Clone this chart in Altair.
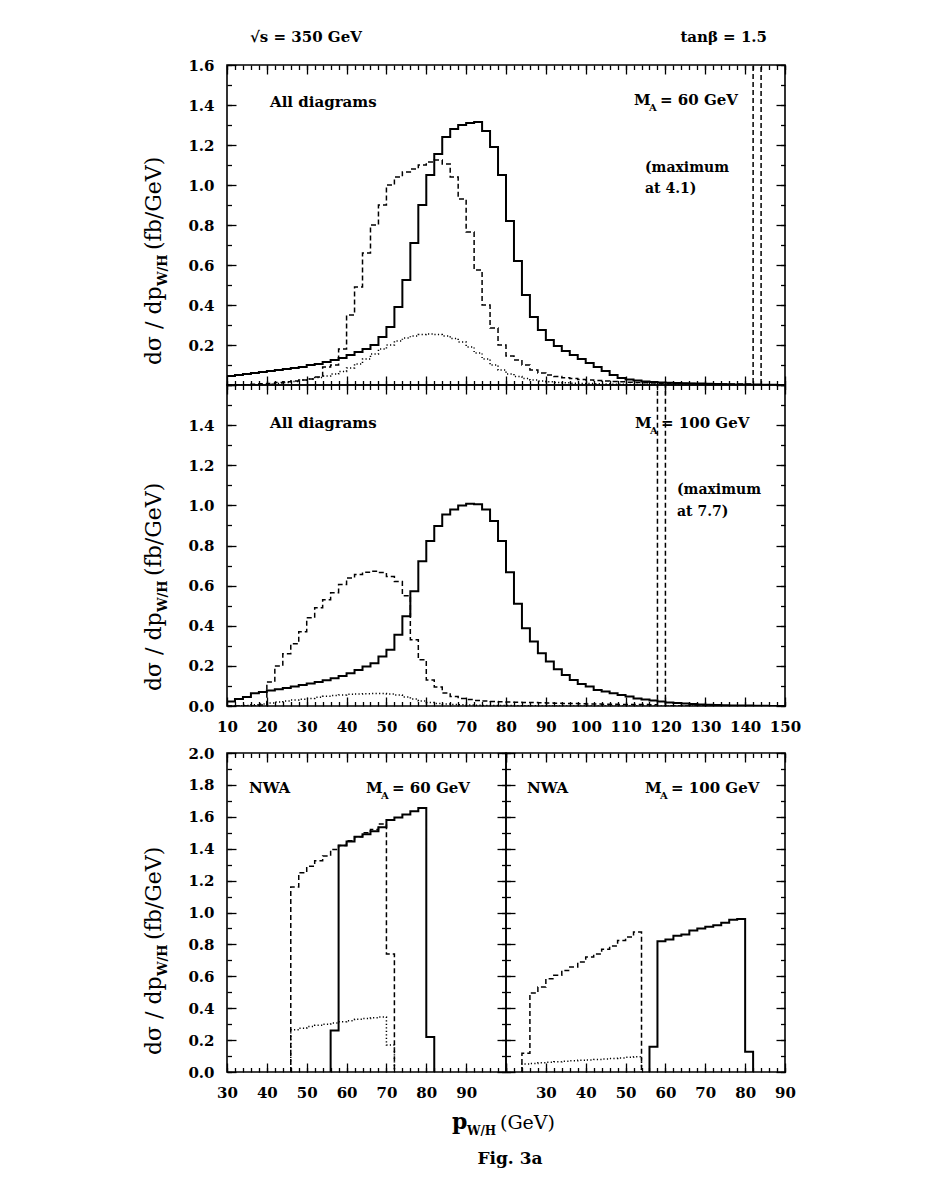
import altair as alt
import pandas as pd

FONT = "DejaVu Serif"
BIN_WIDTH = 2

# ---------------- data (bin contents, 2 GeV bins) ----------------
# Top panel: all diagrams, M_A = 60 GeV, bins starting at 10 GeV
TOP_START = 10
TOP_SOLID = [
    0.045, 0.050, 0.055, 0.060, 0.065, 0.070, 0.075, 0.080, 0.085, 0.090,
    0.100, 0.105, 0.115, 0.125, 0.135, 0.150, 0.165, 0.180, 0.200, 0.240,
    0.290, 0.390, 0.525, 0.710, 0.900, 1.050, 1.155, 1.240, 1.280, 1.300,
    1.310, 1.315, 1.270, 1.190, 1.050, 0.820, 0.620, 0.450, 0.340, 0.275,
    0.225, 0.195, 0.170, 0.150, 0.130, 0.110, 0.090, 0.070, 0.050, 0.035,
    0.028, 0.022, 0.018, 0.015, 0.013, 0.011, 0.010, 0.009, 0.008, 0.007,
    0.006, 0.005, 0.004, 0.003, 0.003, 0.002, 0.002, 0.001, 0.001, 0.000,
]
TOP_DASHED = [
    0.000, 0.000, 0.000, 0.004, 0.006, 0.008, 0.012, 0.016, 0.020, 0.025,
    0.030, 0.040, 0.090, 0.100, 0.180, 0.350, 0.490, 0.660, 0.800, 0.900,
    1.000, 1.040, 1.065, 1.080, 1.100, 1.115, 1.125, 1.105, 1.040, 0.930,
    0.765, 0.575, 0.400, 0.285, 0.200, 0.145, 0.125, 0.100, 0.075, 0.060,
    0.050, 0.042, 0.036, 0.032, 0.028, 0.025, 0.022, 0.020, 0.018, 0.016,
    0.014, 0.012, 0.011, 0.010, 0.009, 0.008, 0.008, 0.007, 0.007, 0.006,
    0.006, 0.005, 0.005, 0.005, 0.005, 0.005, 4.100, 0.000, 0.000, 0.000,
]
TOP_DOTTED = [
    0.000, 0.000, 0.000, 0.000, 0.000, 0.005, 0.008, 0.012, 0.018, 0.025,
    0.030, 0.038, 0.045, 0.055, 0.068, 0.085, 0.105, 0.130, 0.155, 0.180,
    0.200, 0.220, 0.235, 0.245, 0.252, 0.255, 0.252, 0.245, 0.232, 0.215,
    0.190, 0.160, 0.130, 0.100, 0.075, 0.055, 0.042, 0.032, 0.025, 0.020,
    0.016, 0.013, 0.011, 0.009, 0.008, 0.007, 0.006, 0.005, 0.004, 0.004,
    0.003, 0.003, 0.002, 0.002, 0.002, 0.001, 0.001, 0.001, 0.001, 0.000,
    0.000, 0.000, 0.000, 0.000, 0.000, 0.000, 0.000, 0.000, 0.000, 0.000,
]

# Middle panel: all diagrams, M_A = 100 GeV
MID_START = 10
MID_SOLID = [
    0.022, 0.035, 0.045, 0.063, 0.070, 0.077, 0.083, 0.090, 0.097, 0.105,
    0.112, 0.120, 0.128, 0.138, 0.150, 0.163, 0.180, 0.197, 0.213, 0.247,
    0.280, 0.355, 0.447, 0.572, 0.722, 0.822, 0.897, 0.955, 0.980, 1.000,
    1.008, 1.005, 0.980, 0.922, 0.822, 0.667, 0.510, 0.388, 0.322, 0.263,
    0.222, 0.183, 0.155, 0.130, 0.110, 0.097, 0.080, 0.072, 0.063, 0.055,
    0.047, 0.038, 0.033, 0.027, 0.022, 0.018, 0.015, 0.012, 0.010, 0.008,
    0.006, 0.005, 0.004, 0.003, 0.002, 0.002, 0.001, 0.001, 0.000, 0.000,
]
MID_DASHED = [
    0.000, 0.000, 0.000, 0.000, 0.005, 0.120, 0.200, 0.260, 0.310, 0.370,
    0.440, 0.490, 0.530, 0.565, 0.605, 0.638, 0.655, 0.667, 0.672, 0.665,
    0.645, 0.620, 0.550, 0.330, 0.230, 0.130, 0.095, 0.065, 0.047, 0.038,
    0.032, 0.028, 0.025, 0.023, 0.021, 0.020, 0.019, 0.018, 0.017, 0.016,
    0.015, 0.014, 0.013, 0.012, 0.011, 0.010, 0.010, 0.009, 0.009, 0.008,
    0.008, 0.007, 0.007, 0.006, 7.700, 0.000, 0.000, 0.000, 0.000, 0.000,
    0.000, 0.000, 0.000, 0.000, 0.000, 0.000, 0.000, 0.000, 0.000, 0.000,
]
MID_DOTTED = [
    0.000, 0.000, 0.003, 0.006, 0.010, 0.015, 0.020, 0.025, 0.030, 0.034,
    0.038, 0.043, 0.048, 0.052, 0.055, 0.058, 0.060, 0.061, 0.062, 0.062,
    0.060, 0.055, 0.045, 0.035, 0.025, 0.018, 0.013, 0.010, 0.008, 0.006,
    0.005, 0.004, 0.003, 0.003, 0.002, 0.002, 0.001, 0.001, 0.001, 0.000,
    0.000, 0.000, 0.000, 0.000, 0.000, 0.000, 0.000, 0.000, 0.000, 0.000,
    0.000, 0.000, 0.000, 0.000, 0.000, 0.000, 0.000, 0.000, 0.000, 0.000,
    0.000, 0.000, 0.000, 0.000, 0.000, 0.000, 0.000, 0.000, 0.000, 0.000,
]

# Bottom panels: narrow width approximation (NWA)
NWA60_SOLID_START = 56
NWA60_SOLID = [0.26, 1.42, 1.445, 1.475, 1.49, 1.51, 1.535, 1.58, 1.595, 1.615, 1.635, 1.655, 0.22]
NWA60_DASHED_START = 46
NWA60_DASHED = [1.16, 1.25, 1.29, 1.325, 1.355, 1.395, 1.42, 1.45, 1.475, 1.50, 1.52, 1.555, 0.74]
NWA60_DOTTED_START = 46
NWA60_DOTTED = [0.265, 0.275, 0.285, 0.293, 0.30, 0.307, 0.315, 0.322, 0.33, 0.335, 0.34, 0.345, 0.17]

NWA100_SOLID_START = 56
NWA100_SOLID = [0.158, 0.82, 0.83, 0.855, 0.862, 0.887, 0.90, 0.91, 0.92, 0.935, 0.955, 0.96, 0.127]
NWA100_DASHED_START = 24
NWA100_DASHED = [0.117, 0.496, 0.533, 0.585, 0.606, 0.637, 0.658, 0.69, 0.721, 0.74, 0.77, 0.79, 0.825, 0.846, 0.877]
NWA100_DOTTED_START = 24
NWA100_DOTTED = [0.05, 0.054, 0.058, 0.061, 0.064, 0.067, 0.07, 0.073, 0.076, 0.079, 0.082, 0.085, 0.088, 0.092, 0.096]


# ---------------- helpers ----------------
def hist_frame(start, values):
    n = len(values)
    xs = [start] + [start + BIN_WIDTH * k for k in range(n)] + [start + BIN_WIDTH * n]
    ys = [0.0] + list(values) + [0.0]
    return pd.DataFrame({"x": xs, "y": ys, "order": list(range(n + 2))})


def ticks(a, b, step):
    n = int(round((b - a) / step))
    return [round(a + step * k, 6) for k in range(n + 1)]


def make_axis(orient, values, size, label_expr=None, pad=13):
    kw = dict(orient=orient, values=values, tickSize=size, offset=-size,
              domain=False, grid=False, title=None, ticks=True,
              tickColor="black", tickWidth=1.3)
    if label_expr is None:
        kw["labels"] = False
    else:
        kw.update(labels=True, labelExpr=label_expr, labelFont=FONT, labelFontSize=15,
                  labelFontWeight="bold", labelColor="black", labelPadding=pad,
                  labelFlush=False, labelOverlap=False)
    return alt.Axis(**kw)


def txt(s, x, y, size=15, weight="bold", align="left", angle=0):
    kw = dict(align=align, baseline="alphabetic", font=FONT, fontSize=size,
              fontWeight=weight, color="black")
    if angle:
        kw["angle"] = angle
    return alt.Chart(pd.DataFrame({"t": [s]})).mark_text(**kw).encode(
        text="t:N", x=alt.value(x), y=alt.value(y))


def ytitle(start):
    return [
        txt("dσ / dp", -66, start, size=22, weight="normal", angle=270),
        txt("W/H", -60, start - 79, size=13, weight="bold", angle=270),
        txt("(fb/GeV)", -66, start - 115, size=22, weight="normal", angle=270),
    ]


def ma_label(x0, y0, val):
    return [txt("M", x0, y0, 15), txt("A", x0 + 15, y0 + 6, 10), txt("= %s GeV" % val, x0 + 26, y0, 15)]


STYLES = {
    "solid": dict(strokeWidth=2.0),
    "dashed": dict(strokeWidth=1.5, strokeDash=[5, 3]),
    "dotted": dict(strokeWidth=1.5, strokeDash=[1.2, 2.3]),
    "ghost": dict(strokeWidth=1, strokeOpacity=0),
}


def panel(curves, xdom, ydom, w, h, xmaj, xmin_, ymaj, ymin_, xexpr, yexpr, texts):
    xs = alt.Scale(domain=xdom, nice=False, zero=False)
    ys = alt.Scale(domain=ydom, nice=False, zero=False)
    axes = [
        (make_axis("bottom", xmaj, 9, xexpr), make_axis("left", ymaj, 9, yexpr, pad=13)),
        (make_axis("bottom", xmin_, 4.5), make_axis("left", ymin_, 4.5)),
        (make_axis("top", xmaj, 9), make_axis("right", ymaj, 9)),
        (make_axis("top", xmin_, 4.5), make_axis("right", ymin_, 4.5)),
    ]
    items = list(curves) + [(curves[0][0], "ghost")]
    layers = []
    for k, (df, style) in enumerate(items):
        ax_x, ax_y = axes[k]
        layers.append(
            alt.Chart(df).mark_line(interpolate="step-after", clip=True, color="black",
                                    **STYLES[style]).encode(
                x=alt.X("x:Q", scale=xs, axis=ax_x),
                y=alt.Y("y:Q", scale=ys, axis=ax_y),
                order=alt.Order("order:Q"),
            )
        )
    return alt.layer(*layers, *texts).resolve_axis(x="independent", y="independent").properties(
        width=w, height=h)


# ---------------- panels ----------------
X_TOP = [10, 150]
top_texts = [
    txt("√s =  350 GeV", 23, -23, 15),
    txt("tanβ = 1.5", 540, -23, 15, align="right"),
    txt("All diagrams", 43, 42, 15),
    *ma_label(407, 40, "60"),
    txt("(maximum", 418, 107, 14),
    txt("at 4.1)", 418, 128, 14),
    *ytitle(300),
]
top = panel(
    [(hist_frame(TOP_START, TOP_SOLID), "solid"),
     (hist_frame(TOP_START, TOP_DASHED), "dashed"),
     (hist_frame(TOP_START, TOP_DOTTED), "dotted")],
    X_TOP, [0, 1.6], 558, 320,
    ticks(10, 150, 10), ticks(10, 150, 2), ticks(0, 1.6, 0.2), ticks(0, 1.6, 0.1),
    None, "datum.value < 0.05 ? '' : format(datum.value, '.1f')", top_texts)

mid_texts = [
    txt("All diagrams", 43, 43, 15),
    *ma_label(408, 43, "100"),
    txt("(maximum", 450, 109, 14),
    txt("at 7.7)", 450, 131, 14),
    *ytitle(306),
]
mid = panel(
    [(hist_frame(MID_START, MID_SOLID), "solid"),
     (hist_frame(MID_START, MID_DASHED), "dashed"),
     (hist_frame(MID_START, MID_DOTTED), "dotted")],
    X_TOP, [0, 1.6], 558, 321,
    ticks(10, 150, 10), ticks(10, 150, 2), ticks(0, 1.6, 0.2), ticks(0, 1.6, 0.1),
    "format(datum.value, 'd')", "datum.value > 1.55 ? '' : format(datum.value, '.1f')", mid_texts)

bl_texts = [
    txt("NWA", 22, 40, 15),
    *ma_label(139, 40, "60"),
    *ytitle(302),
    txt("p", 225, 376, 22, weight="bold"),
    txt("W/H", 240, 382, 12, weight="bold"),
    txt("(GeV)", 273, 376, 19, weight="normal"),
    txt("Fig. 3a", 283, 411, 17, weight="bold", align="center"),
]
bl = panel(
    [(hist_frame(NWA60_SOLID_START, NWA60_SOLID), "solid"),
     (hist_frame(NWA60_DASHED_START, NWA60_DASHED), "dashed"),
     (hist_frame(NWA60_DOTTED_START, NWA60_DOTTED), "dotted")],
    [30, 100], [0, 2.0], 279, 319,
    ticks(30, 100, 10), ticks(30, 100, 2), ticks(0, 2.0, 0.2), ticks(0, 2.0, 0.1),
    "datum.value > 95 ? '' : format(datum.value, 'd')", "format(datum.value, '.1f')", bl_texts)

br_texts = [
    txt("NWA", 21, 40, 15),
    *ma_label(139, 40, "100"),
]
br = panel(
    [(hist_frame(NWA100_SOLID_START, NWA100_SOLID), "solid"),
     (hist_frame(NWA100_DASHED_START, NWA100_DASHED), "dashed"),
     (hist_frame(NWA100_DOTTED_START, NWA100_DOTTED), "dotted")],
    [20, 90], [0, 2.0], 279, 319,
    ticks(20, 90, 10), ticks(20, 90, 2), ticks(0, 2.0, 0.2), ticks(0, 2.0, 0.1),
    "datum.value < 25 ? '' : format(datum.value, 'd')", None, br_texts)

spacer = alt.Chart(pd.DataFrame({"x": [0]})).mark_point(opacity=0).encode(
    x=alt.X("x:Q", axis=None), y=alt.Y("x:Q", axis=None)
).properties(width=558, height=47, view=alt.ViewBackground(stroke="transparent", strokeWidth=0))

bottom = alt.hconcat(bl, br, spacing=0, bounds="flush")

chart = alt.vconcat(top, mid, spacer, bottom, spacing=0, bounds="flush").properties(
    padding={"left": 134, "top": 21, "right": 10, "bottom": 10}
).configure_view(stroke="black", strokeWidth=1.6)

chart.save("out.html", embed_options={"renderer": "svg", "actions": False})
